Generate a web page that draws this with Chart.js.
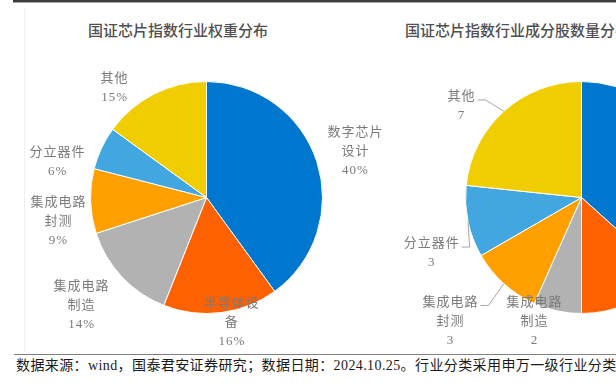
<!DOCTYPE html>
<html lang="zh-CN">
<head>
<meta charset="UTF-8">
<title>国证芯片指数行业分布</title>
<script src="https://cdn.jsdelivr.net/npm/chart.js@4.4.1/dist/chart.umd.min.js"></script>
<style>
  html, body { margin: 0; padding: 0; background: #fff; }
  body {
    width: 616px; height: 383px; overflow: hidden; position: relative;
    font-family: "Liberation Serif", "Noto Sans CJK SC", serif;
  }
  .topline { position: absolute; left: 13px; top: 0; width: 603px; height: 2px; background: #3c3c3c; border-bottom: 1px solid #a8a8a8; }
  .frame { position: absolute; left: 24px; top: 8px; width: 1px; height: 344px; background: #f0f0f0; }
  .title {
    position: absolute; top: 20px; line-height: 20px; font-size: 15px; font-weight: 500;
    color: #505050; white-space: nowrap; font-family: "Noto Sans CJK SC", sans-serif;
  }
  .box { position: absolute; top: 40px; }
  .bottomline { position: absolute; left: 14px; top: 354px; width: 602px; height: 1px; background: #808080; }
  .source {
    position: absolute; left: 16px; top: 356px; line-height: 20px; font-size: 14px;
    color: #1a1a1a; white-space: nowrap; letter-spacing: 0.4px;
  }
</style>
</head>
<body>
  <div class="topline"></div>
  <div class="frame"></div>

  <div class="title" style="left:88px">国证芯片指数行业权重分布</div>
  <div class="title" style="left:405px">国证芯片指数行业成分股数量分布</div>

  <canvas id="weightPie" class="box" style="left:0" width="400" height="312"></canvas>
  <canvas id="countPie" class="box" style="left:340px" width="400" height="312"></canvas>

  <div class="bottomline"></div>
  <div class="source">数据来源：wind，国泰君安证券研究；数据日期：2024.10.25。行业分类采用申万一级行业分类</div>

<script>
// industries, clockwise from 12 o'clock
const categories = ['数字芯片设计', '半导体设备', '集成电路制造', '集成电路封测', '分立器件', '其他'];
const weightValues = [40, 16, 14, 9, 6, 15];   // weight, %
const countValues = [11, 4, 2, 3, 3, 7];       // number of stocks

const sliceColors = ['#0077CF', '#FF6000', '#B2B2B2', '#FFA000', '#42A6E0', '#F0CD00'];

// label placement: [angle shift from slice middle (deg), distance beyond the rim (px)]
const weightLabelPlace = [[0.8, 40], [-4.2, 12], [2.4, 49], [-7.4, 34], [-12, 37], [-13, 27]];
const countLabelPlace = [[0, 40], [0, 60], [8.8, 16.6], [4.6, 64.4], [-8.5, 44], [-10.8, 34.6]];
const countLeaders = [false, false, false, true, true, true];

// Excel wraps the data labels after four characters
function wrapName(name) {
    const out = [];
    for (let i = 0; i < name.length; i += 4) out.push(name.slice(i, i + 4));
    return out;
}

const pieLabels = {
    id: 'pieLabels',
    afterDatasetsDraw(chart, args, opts) {
        const ctx = chart.ctx;
        const meta = chart.getDatasetMeta(0);
        const values = chart.data.datasets[0].data;
        const lh = 19;
        ctx.save();
        ctx.font = '13px "Liberation Serif", "Noto Sans CJK SC"';
        ctx.letterSpacing = '1px';
        ctx.textAlign = 'center';
        ctx.textBaseline = 'middle';
        meta.data.forEach((arc, i) => {
            const p = arc.getProps(['x', 'y', 'startAngle', 'endAngle', 'outerRadius'], true);
            const [shift, gap] = opts.place[i];
            const mid = (p.startAngle + p.endAngle) / 2;
            const ang = mid + shift * Math.PI / 180;
            const cx = p.x + Math.cos(ang) * (p.outerRadius + gap);
            const cy = p.y + Math.sin(ang) * (p.outerRadius + gap);
            const lines = wrapName(chart.data.labels[i]).concat(opts.format(values[i]));
            const top = cy - (lines.length - 1) * lh / 2;

            if (opts.leaders && opts.leaders[i]) {
                const w = ctx.measureText(lines[0]).width;
                const sx = cx + w / 2 + 2;
                const ly = top + 3;
                ctx.beginPath();
                ctx.moveTo(sx, ly);
                ctx.lineTo(sx + 8, ly);
                ctx.lineTo(p.x + Math.cos(mid) * p.outerRadius, p.y + Math.sin(mid) * p.outerRadius);
                ctx.strokeStyle = '#a6a6a6';
                ctx.lineWidth = 1;
                ctx.stroke();
            }

            ctx.fillStyle = '#7a7a7a';
            lines.forEach((t, k) => ctx.fillText(t, cx, top + k * lh));
        });
        ctx.restore();
    }
};

function makePie(id, values, padding, labelOpts) {
    return new Chart(document.getElementById(id), {
        type: 'pie',
        data: {
            labels: categories,
            datasets: [{
                data: values,
                backgroundColor: sliceColors,
                borderColor: '#ffffff',
                borderWidth: 1,
                hoverOffset: 0
            }]
        },
        options: {
            responsive: false,
            animation: false,
            layout: { padding: padding },
            plugins: {
                legend: { display: false },
                tooltip: { enabled: false },
                pieLabels: labelOpts
            }
        },
        plugins: [pieLabels]
    });
}

makePie('weightPie', weightValues, { left: 90, right: 77, top: 41, bottom: 38 }, {
    place: weightLabelPlace,
    format: v => v + '%'
});

makePie('countPie', countValues, { left: 125, right: 42, top: 41, bottom: 38 }, {
    place: countLabelPlace,
    format: v => String(v),
    leaders: countLeaders
});
</script>
</body>
</html>
